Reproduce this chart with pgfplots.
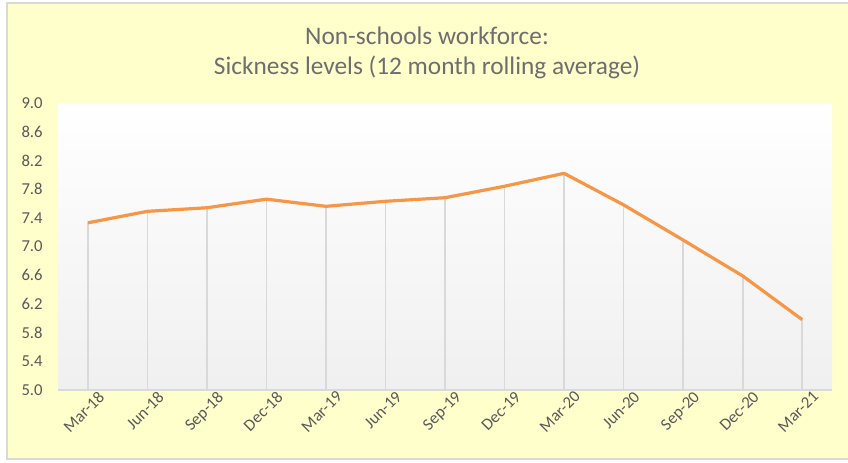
\documentclass[border=0pt]{standalone}
\usepackage{fontspec}
\setmainfont{Carlito}
\usepackage{pgfplots}
\pgfplotsset{compat=1.18}
\definecolor{chartbg}{RGB}{255,255,204}
\definecolor{frame}{RGB}{217,217,217}
\definecolor{txt}{RGB}{89,89,89}
\definecolor{ttl}{RGB}{110,110,110}
\definecolor{sick}{RGB}{247,150,70}
\definecolor{drop}{RGB}{217,217,217}

\pgfplotstableread{
x v
0  7.33
1  7.49
2  7.54
3  7.66
4  7.56
5  7.63
6  7.68
7  7.84
8  8.02
9  7.58
10 7.09
11 6.59
12 5.98
}\sickness

\begin{document}
\begin{tikzpicture}[x=0.75pt,y=0.75pt]
\path[use as bounding box, fill=white] (0,0) rectangle (848,462);
\draw[frame, fill=chartbg, line width=1.2pt] (7,3) rectangle (852,459);
\node[align=center, text=ttl, font=\fontsize{19}{23}\selectfont] at (427,409)
  {Non-schools workforce:\\Sickness levels (12 month rolling average)};
\begin{axis}[
  at={(43.5pt,54pt)}, anchor=south west,
  scale only axis,
  width=580.5pt, height=215.25pt,
  xmin=-0.5, xmax=12.5,
  ymin=5, ymax=9,
  ytick={5.0,5.4,...,9.01},
  xtick=data,
  xticklabels={Mar-18,Jun-18,Sep-18,Dec-18,Mar-19,Jun-19,Sep-19,Dec-19,Mar-20,Jun-20,Sep-20,Dec-20,Mar-21},
  xticklabel style={rotate=45, anchor=north east, inner sep=1pt, yshift=-4pt, xshift=6pt},
  yticklabel style={/pgf/number format/.cd, fixed, fixed zerofill, precision=1, /tikz/.cd, xshift=-8pt},
  /pgf/number format/assume math mode=true,
  tick label style={text=txt, font=\fontsize{12.5}{14}\selectfont},
  major tick length=0pt,
  axis line style={draw=none},
  axis background/.style={top color=white, bottom color=black!6},
  clip=true,
]
\addplot[ycomb, drop, line width=1.2pt, forget plot] table[x=x, y=v] {\sickness};
\draw[drop, line width=1.6pt] (axis cs:-0.5,5) -- (axis cs:12.5,5);
\addplot[sick, line width=2.4pt, line join=round, mark=none] table[x=x, y=v] {\sickness};
\end{axis}
\end{tikzpicture}
\end{document}
